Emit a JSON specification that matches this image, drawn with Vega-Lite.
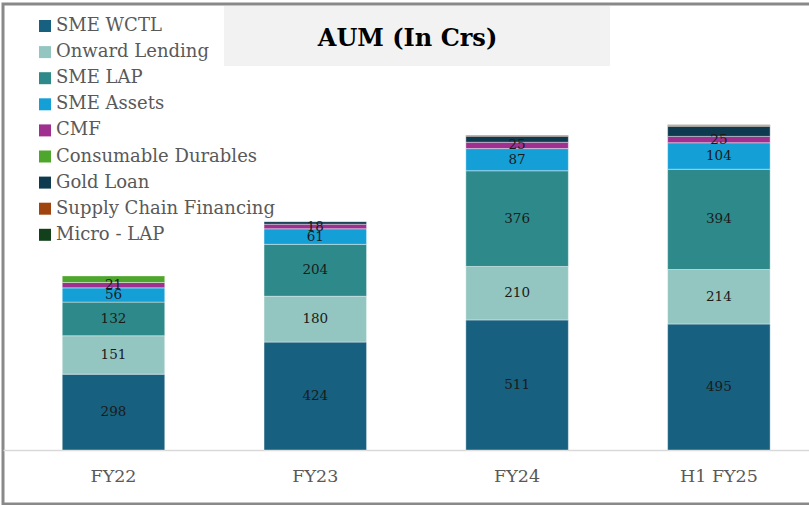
{
  "$schema": "https://vega.github.io/schema/vega-lite/v6.json",
  "width": 809,
  "height": 500,
  "autosize": {"type": "none"},
  "padding": {"left": 3, "top": 4, "right": -3, "bottom": 1},
  "background": "white",
  "config": {
    "view": {"stroke": "#898989", "strokeWidth": 3},
    "font": "DejaVu Serif"
  },
  "title": {
    "text": "AUM (In Crs)",
    "font": "DejaVu Serif",
    "fontWeight": "bold",
    "fontSize": 24,
    "color": "black",
    "anchor": "middle",
    "frame": "group",
    "baseline": "middle",
    "offset": 0,
    "dy": 220,
    "zindex": 2
  },
  "data": {
    "values": [
      {"period": "FY22", "segment": "SME WCTL", "idx": 1, "value": 298},
      {"period": "FY22", "segment": "Onward Lending", "idx": 2, "value": 151},
      {"period": "FY22", "segment": "SME LAP", "idx": 3, "value": 132},
      {"period": "FY22", "segment": "SME Assets", "idx": 4, "value": 56},
      {"period": "FY22", "segment": "CMF", "idx": 5, "value": 21},
      {"period": "FY22", "segment": "Consumable Durables", "idx": 6, "value": 26},
      {"period": "FY23", "segment": "SME WCTL", "idx": 1, "value": 424},
      {"period": "FY23", "segment": "Onward Lending", "idx": 2, "value": 180},
      {"period": "FY23", "segment": "SME LAP", "idx": 3, "value": 204},
      {"period": "FY23", "segment": "SME Assets", "idx": 4, "value": 61},
      {"period": "FY23", "segment": "CMF", "idx": 5, "value": 18},
      {"period": "FY23", "segment": "Gold Loan", "idx": 7, "value": 10},
      {"period": "FY24", "segment": "SME WCTL", "idx": 1, "value": 511},
      {"period": "FY24", "segment": "Onward Lending", "idx": 2, "value": 210},
      {"period": "FY24", "segment": "SME LAP", "idx": 3, "value": 376},
      {"period": "FY24", "segment": "SME Assets", "idx": 4, "value": 87},
      {"period": "FY24", "segment": "CMF", "idx": 5, "value": 25},
      {"period": "FY24", "segment": "Gold Loan", "idx": 7, "value": 24},
      {"period": "FY24", "segment": "Supply Chain Financing", "idx": 8, "value": 3},
      {"period": "H1 FY25", "segment": "SME WCTL", "idx": 1, "value": 495},
      {"period": "H1 FY25", "segment": "Onward Lending", "idx": 2, "value": 214},
      {"period": "H1 FY25", "segment": "SME LAP", "idx": 3, "value": 394},
      {"period": "H1 FY25", "segment": "SME Assets", "idx": 4, "value": 104},
      {"period": "H1 FY25", "segment": "CMF", "idx": 5, "value": 25},
      {"period": "H1 FY25", "segment": "Gold Loan", "idx": 7, "value": 40},
      {"period": "H1 FY25", "segment": "Supply Chain Financing", "idx": 8, "value": 3},
      {"period": "H1 FY25", "segment": "Micro - LAP", "idx": 9, "value": 3}
    ]
  },
  "layer": [
    {
      "mark": {"type": "bar", "stroke": "white", "strokeWidth": 0.4},
      "encoding": {
        "x": {
          "field": "period",
          "type": "nominal",
          "sort": ["FY22", "FY23", "FY24", "H1 FY25"],
          "scale": {"paddingInner": 0.492, "paddingOuter": 0.2505, "align": 0.586},
          "axis": {
            "title": null,
            "orient": "bottom",
            "offset": -54,
            "labelAngle": 0,
            "ticks": false,
            "tickSize": 0,
            "labelPadding": 17,
            "labelFont": "DejaVu Serif",
            "labelFontSize": 17.5,
            "labelColor": "#595959",
            "domainColor": "#d9d9d9",
            "domainWidth": 1.5,
            "grid": false
          }
        },
        "y": {
          "field": "value",
          "type": "quantitative",
          "stack": "zero",
          "scale": {"domain": [-212, 1752], "nice": false, "zero": false},
          "axis": null
        },
        "color": {
          "field": "segment",
          "type": "nominal",
          "scale": {
            "domain": ["SME WCTL", "Onward Lending", "SME LAP", "SME Assets", "CMF", "Consumable Durables", "Gold Loan", "Supply Chain Financing", "Micro - LAP"],
            "range": ["#17607f", "#93c6c1", "#2e8a8a", "#149fd6", "#a0308f", "#4fa62c", "#0e3a50", "#a0440f", "#11401a"]
          },
          "legend": {
            "orient": "none",
            "legendX": 33,
            "legendY": 13,
            "zindex": 1,
            "title": null,
            "padding": 0,
            "symbolType": "square",
            "symbolSize": 144,
            "symbolStrokeWidth": 0,
            "symbolOpacity": 1,
            "labelFont": "DejaVu Serif",
            "labelFontSize": 18,
            "labelColor": "#595959",
            "labelOffset": 2,
            "labelLimit": 400,
            "rowPadding": 8.1
          }
        },
        "order": {"field": "idx", "type": "quantitative", "sort": "ascending"}
      }
    },
    {
      "transform": [
        {"stack": "value", "groupby": ["period"], "sort": [{"field": "idx", "order": "ascending"}], "as": ["v0", "v1"]},
        {"calculate": "(datum.v0 + datum.v1) / 2", "as": "mid"},
        {"filter": "datum.idx <= 5"}
      ],
      "mark": {"type": "text", "font": "DejaVu Serif", "fontSize": 13.5, "color": "#1a1a1a", "baseline": "middle", "align": "center"},
      "encoding": {
        "x": {"field": "period", "type": "nominal", "sort": ["FY22", "FY23", "FY24", "H1 FY25"]},
        "y": {"field": "mid", "type": "quantitative"},
        "text": {"field": "value", "type": "quantitative"}
      }
    },
    {
      "data": {"values": [{"box": "AUM (In Crs)"}]},
      "mark": {"type": "point", "opacity": 0, "filled": true, "color": "#f2f2f2"},
      "encoding": {
        "shape": {
          "field": "box",
          "type": "nominal",
          "scale": {"range": ["M-1,-0.1554H1V0.1554H-1Z"]},
          "legend": {
            "orient": "none",
            "legendX": 221,
            "legendY": -161,
            "zindex": 0,
            "title": null,
            "padding": 0,
            "symbolSize": 148996,
            "symbolFillColor": "#f2f2f2",
            "symbolStrokeColor": "#f2f2f2",
            "symbolStrokeWidth": 0,
            "symbolOpacity": 1,
            "labelFontSize": 1,
            "labelOpacity": 0,
            "labelOffset": 0,
            "labelLimit": 10
          }
        }
      }
    }
  ]
}
